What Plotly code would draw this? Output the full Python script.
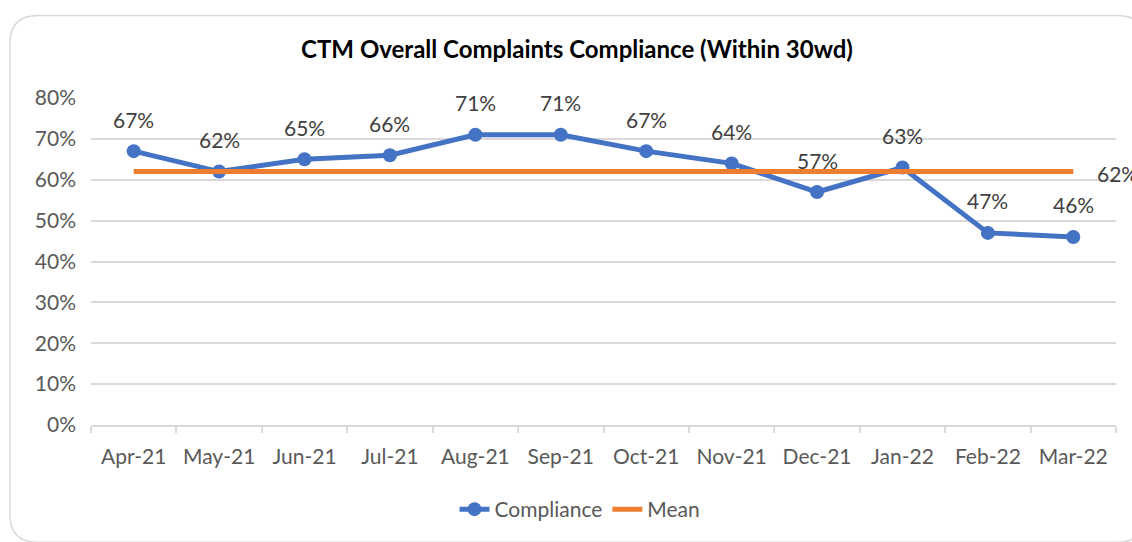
import plotly.graph_objects as go

months = ["Apr-21", "May-21", "Jun-21", "Jul-21", "Aug-21", "Sep-21",
          "Oct-21", "Nov-21", "Dec-21", "Jan-22", "Feb-22", "Mar-22"]
compliance = [0.67, 0.62, 0.65, 0.66, 0.71, 0.71, 0.67, 0.64, 0.57, 0.63, 0.47, 0.46]
mean_value = 0.62
mean = [mean_value] * len(months)
y_ticks = [0, 0.1, 0.2, 0.3, 0.4, 0.5, 0.6, 0.7, 0.8]

FONT = "Lato, 'Open Sans', sans-serif"
GREY = "#595959"
FS = 21

W, H = 1132, 542
L, R, T, B = 91, 16, 98, 115
pw, ph = W - L - R, H - T - B


def px(x):
    return (x - L) / pw


def py(y):
    return (H - B - y) / ph


fig = go.Figure()
fig.add_trace(go.Scatter(
    x=months, y=compliance, name="Compliance", mode="lines+markers",
    line=dict(color="#4472C4", width=5),
    marker=dict(size=14, color="#4472C4"),
    cliponaxis=False,
))
fig.add_trace(go.Scatter(
    x=months, y=mean, name="Mean", mode="lines",
    line=dict(color="#ED7D31", width=5),
    cliponaxis=False,
))

annotations = []
for m, v in zip(months, compliance):
    annotations.append(dict(
        x=m, y=v, text=f"{round(v*100)}%", showarrow=False,
        yshift=32, font=dict(family=FONT, size=FS, color="#404040"),
        xref="x", yref="y",
    ))
annotations.append(dict(
    x=months[-1], y=mean[-1], text=f"{round(mean_value*100)}%", showarrow=False,
    xanchor="left", xshift=22, yshift=-2,
    font=dict(family=FONT, size=FS, color="#404040"), xref="x", yref="y",
))

# rounded chart border
x0, y0 = px(10), py(15)
x1, y1 = px(1145), py(545)
rx, ry = 28 / pw, 28 / ph
path = (f"M {x0} {y1 + ry} L {x0} {y0 - ry} Q {x0} {y0} {x0 + rx} {y0} "
        f"L {x1 - rx} {y0} Q {x1} {y0} {x1} {y0 - ry} L {x1} {y1 + ry} "
        f"Q {x1} {y1} {x1 - rx} {y1} L {x0 + rx} {y1} Q {x0} {y1} {x0} {y1 + ry} Z")

fig.update_layout(
    width=W, height=H,
    margin=dict(l=L, r=R, t=T, b=B),
    paper_bgcolor="white", plot_bgcolor="white",
    title=dict(text="<b>CTM Overall Complaints Compliance (Within 30wd)</b>",
               x=px(577), xanchor="center", xref="paper",
               y=1 - 50 / H, yanchor="middle",
               font=dict(family=FONT, size=24, color="#000000")),
    font=dict(family=FONT, size=FS, color=GREY),
    showlegend=True,
    legend=dict(orientation="h", x=px(580), xanchor="center",
                y=py(512), yanchor="middle",
                font=dict(family=FONT, size=FS, color=GREY),
                tracegroupgap=0),
    annotations=annotations,
    shapes=[dict(type="path", path=path, xref="paper", yref="paper",
                 line=dict(color="#D9D9D9", width=1.5), layer="below")],
    xaxis=dict(
        type="category", showgrid=False, showline=True, linecolor="#D9D9D9",
        linewidth=1.5, ticks="outside", tickson="boundaries", ticklen=6,
        tickcolor="#D9D9D9", tickwidth=1.5, ticklabelstandoff=12,
        tickfont=dict(family=FONT, size=FS, color=GREY),
        range=[-0.5, len(months) - 0.5], fixedrange=True,
    ),
    yaxis=dict(
        range=[0, 0.8], tickvals=y_ticks, tickformat=".0%",
        showgrid=True, gridcolor="#D9D9D9", gridwidth=1.5,
        zeroline=False, showline=False, ticks="",
        ticklabelstandoff=14, fixedrange=True,
        tickfont=dict(family=FONT, size=FS, color=GREY),
    ),
)

fig.write_html("out.html", config={"displayModeBar": False},
               post_script="document.body.style.margin='0';document.body.style.overflow='hidden';")
